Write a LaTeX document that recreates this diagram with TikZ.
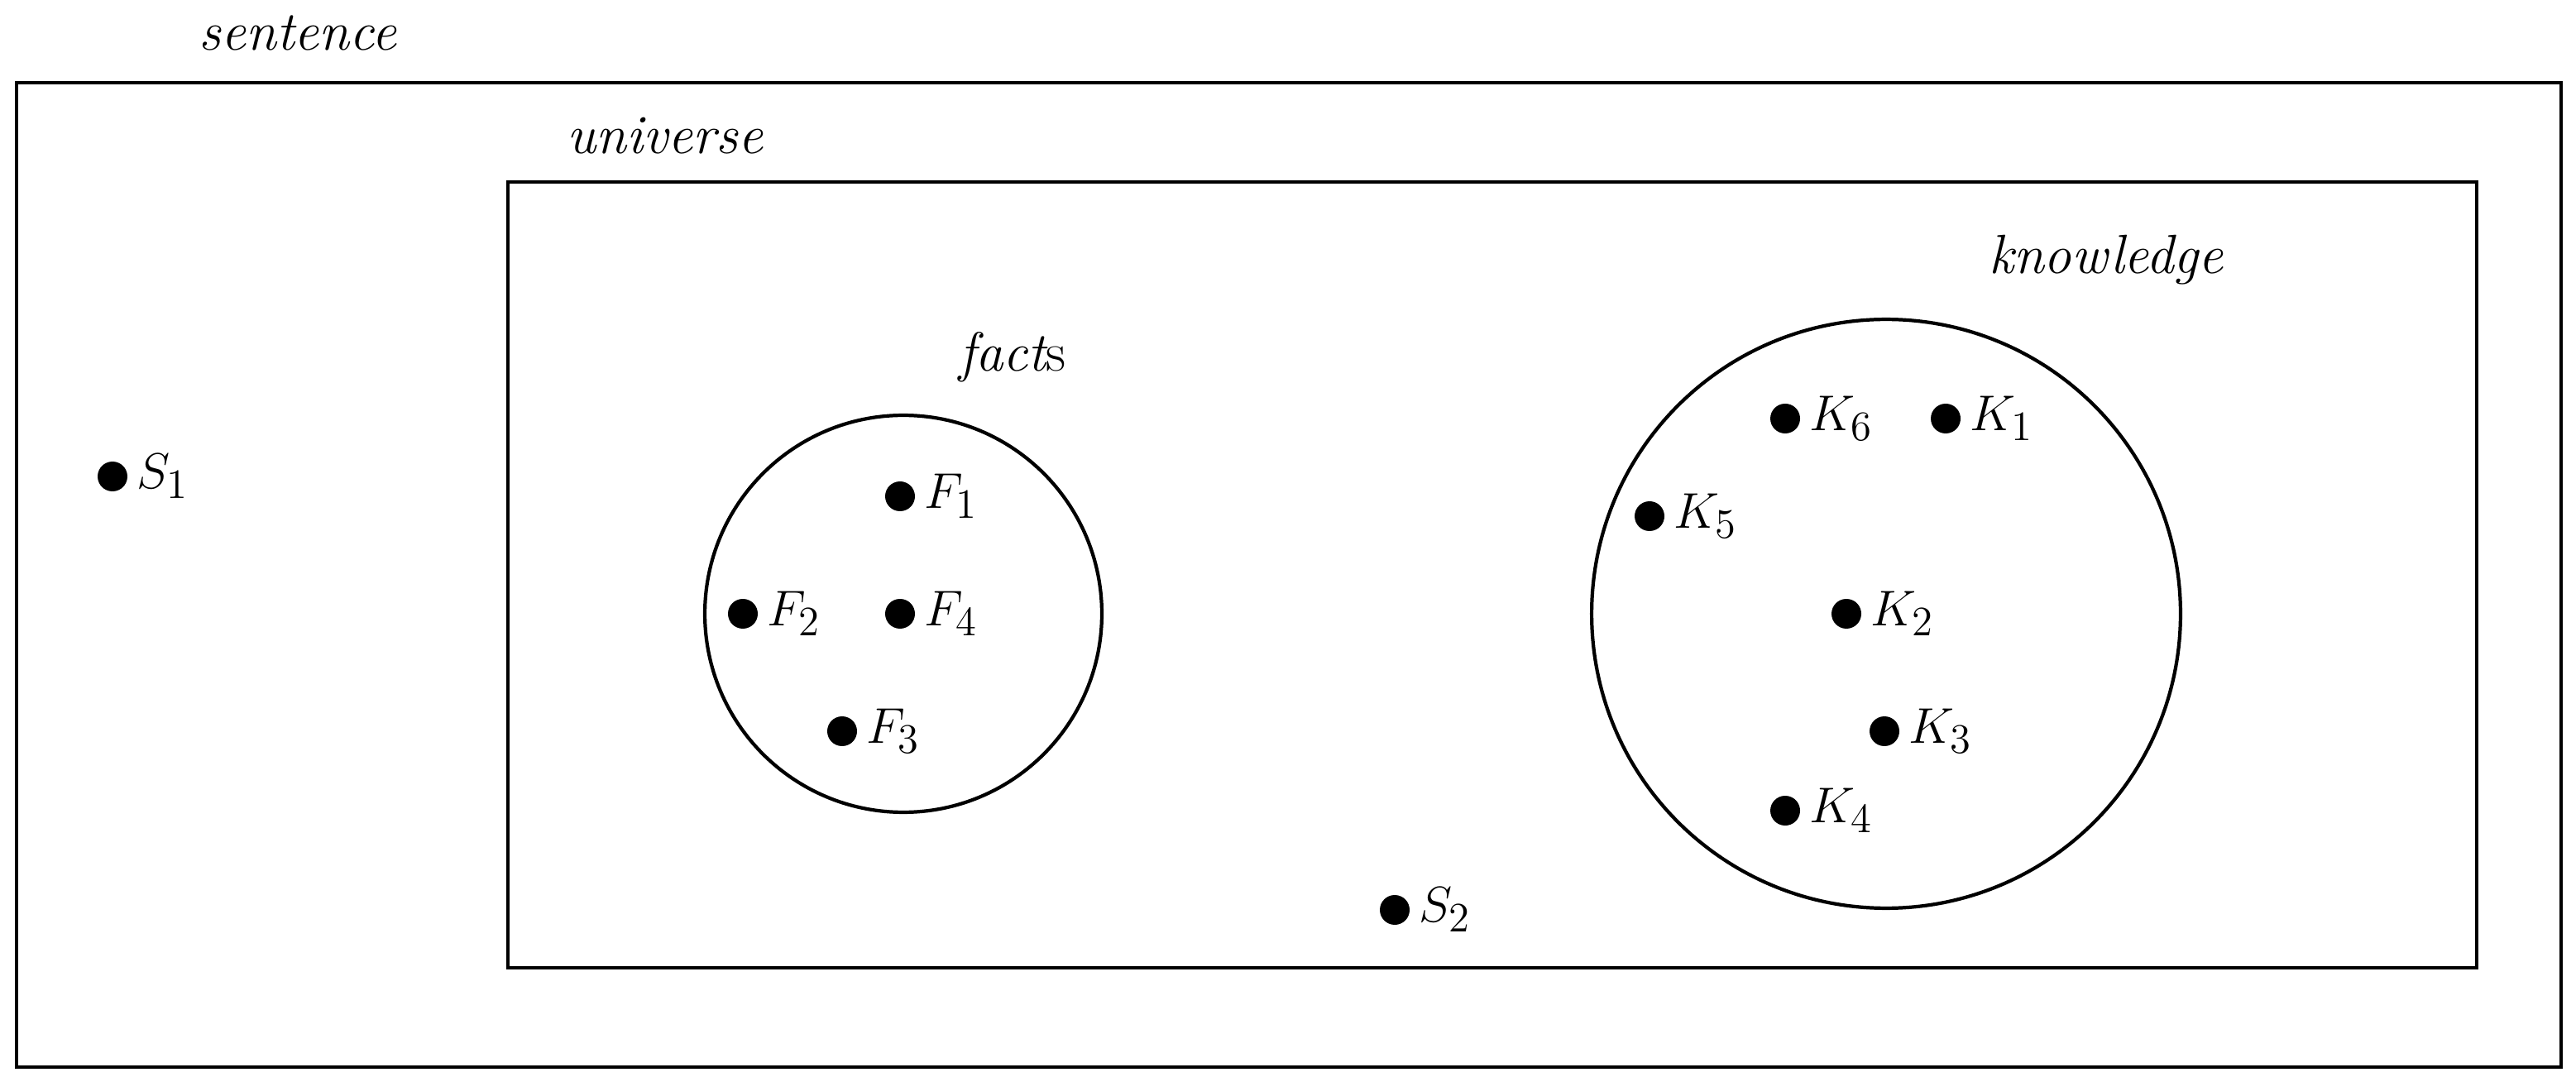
\documentclass[tikz,border=0pt]{standalone}
\begin{document}
\begin{tikzpicture}[x=0.02cm,y=-0.02cm,line width=1.2pt,
  lbl/.style={font=\fontsize{19}{23}\selectfont\itshape,inner sep=0pt},
  pt/.style={circle,fill=black,inner sep=0pt,minimum size=0.36cm},
  pl/.style={font=\fontsize{19}{23}\selectfont,anchor=west,inner sep=2pt}]
\useasboundingbox (0,0) rectangle (1557,651);
\draw (10,50) rectangle (1548,645);
\draw (307,110) rectangle (1497,585);
\node[draw,circle,minimum size=4.8cm,inner sep=0pt] (facts) at (546,371) {};
\node[draw,circle,minimum size=7.12cm,inner sep=0pt] (know) at (1140,371) {};
\node[lbl] (tsent) at (180,20) {sentence};
\node[lbl] (tuni) at (402,82) {universe};
\node[lbl] (tknow) at (1273,157) {knowledge};
\node[lbl] (tfacts) at (612,216) {fact\upshape s};
\foreach \n/\x/\y/\t in {s1/68/288/S_1, s2/843/550/S_2, f1/544/300/F_1, f2/449/371/F_2, f4/544/371/F_4, f3/509/442/F_3, k6/1079/253/K_6, k1/1176/253/K_1, k5/997/312/K_5, k2/1116/371/K_2, k3/1139/442/K_3, k4/1079/490/K_4}{
  \node[pt] (\n) at (\x,\y) {};
  \node[pl] (\n l) at (\n.east) {$\t$};
}
\end{tikzpicture}
\end{document}
